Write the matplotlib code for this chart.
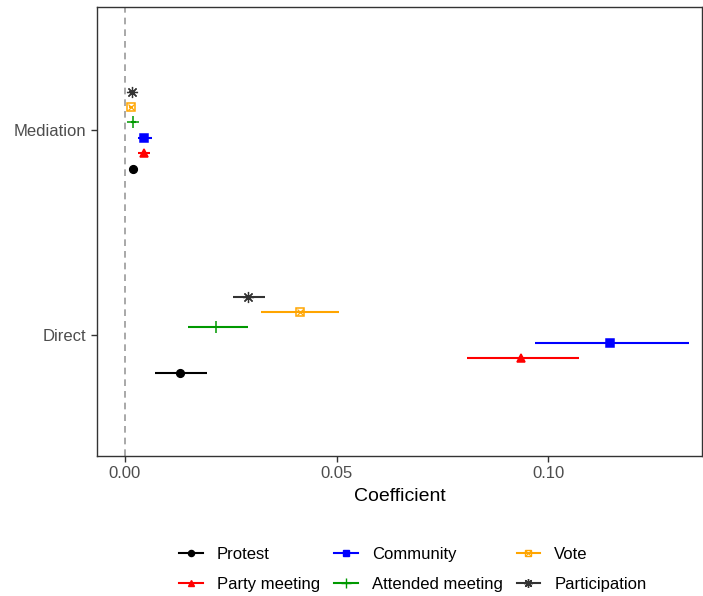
import numpy as np
import matplotlib
matplotlib.use('Agg')
import matplotlib.pyplot as plt
from matplotlib.legend_handler import HandlerTuple
from matplotlib.lines import Line2D

plt.rcParams['font.family'] = ['Liberation Sans', 'DejaVu Sans']

# Datos
effects = ['Direct', 'Mediation']
outcomes = ['Protest', 'Party meeting', 'Community', 'Attended meeting', 'Vote', 'Participation']

direct_est = [0.0130, 0.0936, 0.1147, 0.0215, 0.0414, 0.0291]
direct_lo = [0.0071, 0.0809, 0.0969, 0.0149, 0.0322, 0.0255]
direct_hi = [0.0194, 0.1073, 0.1333, 0.0291, 0.0506, 0.0331]

med_est = [0.0018, 0.0044, 0.0046, 0.0020, 0.0014, 0.0016]
med_lo = [0.0015, 0.0030, 0.0031, 0.0014, 0.0010, 0.0010]
med_hi = [0.0021, 0.0060, 0.0064, 0.0026, 0.0018, 0.0022]

colors = ['black', '#FF0000', '#0000FF', '#009900', '#FFA500', '#333333']

fig = plt.figure(figsize=(7.03, 5.96), dpi=100)
ax = fig.add_axes([0.138, 0.235, 0.861, 0.753])

ax.axvline(0, color='#999999', linestyle=(0, (4, 3)), lw=1.2, zorder=1)

step = 0.075
handles = []
for i, name in enumerate(outcomes):
    off = (i - 2.5) * step
    c = colors[i]
    ys = [1 + off, 2 + off]
    est = [direct_est[i], med_est[i]]
    lo = [direct_lo[i], med_lo[i]]
    hi = [direct_hi[i], med_hi[i]]
    ax.hlines(ys, lo, hi, color=c, lw=1.5, zorder=2)
    if name == 'Vote':
        ax.plot(est, ys, ls='none', marker='s', ms=6, mfc='none', mec=c, mew=1.1, zorder=3)
        ax.plot(est, ys, ls='none', marker='x', ms=5, mec=c, mew=0.9, zorder=3)
        h = (Line2D([], [], color=c, lw=1.5, marker='s', ms=5, mfc='none', mec=c, mew=1.0),
             Line2D([], [], color=c, lw=0, marker='x', ms=4, mec=c, mew=0.8))
    else:
        mk = {'Protest': 'o', 'Party meeting': '^', 'Community': 's',
              'Attended meeting': '+', 'Participation': (8, 2, 0)}[name]
        ms = {'Protest': 5.5, 'Party meeting': 6, 'Community': 5.5,
              'Attended meeting': 9, 'Participation': 8}[name]
        mw = 0.9 if name == 'Participation' else 1.1
        ax.plot(est, ys, ls='none', marker=mk, ms=ms, color=c, mec=c, mew=mw, zorder=3)
        h = Line2D([], [], color=c, lw=1.5, marker=mk, ms=ms * 0.8, mec=c, mew=1.0)
    handles.append(h)

ax.set_xlim(-0.0066, 0.1364)
ax.set_ylim(0.41, 2.6)
ax.set_xticks([0.0, 0.05, 0.10])
ax.set_xticklabels(['0.00', '0.05', '0.10'])
ax.set_yticks([1, 2])
ax.set_yticklabels(effects)
ax.tick_params(colors='#333333', labelcolor='#4D4D4D', labelsize=12, length=4, width=1)
ax.set_xlabel('Coefficient', fontsize=14, labelpad=5)
for s in ax.spines.values():
    s.set_color('#333333')
    s.set_linewidth(1)

fig.legend(handles, outcomes, ncol=3, loc='center', bbox_to_anchor=(0.5875, 0.044),
           frameon=False, fontsize=12, handler_map={tuple: HandlerTuple(ndivide=1, pad=0)},
           handlelength=1.4, columnspacing=0.85, handletextpad=0.85, labelspacing=0.9)

plt.savefig('out.png', dpi=100)
